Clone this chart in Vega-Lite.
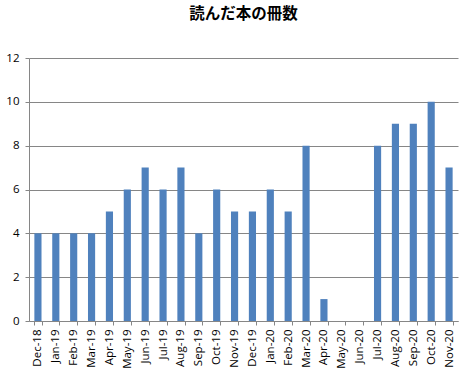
{
  "$schema": "https://vega.github.io/schema/vega-lite/v6.json",
  "width": 429,
  "height": 263,
  "autosize": {"type": "none"},
  "padding": {"left": 29, "top": 58, "right": 7, "bottom": 59},
  "background": "white",
  "title": {"text": "読んだ本の冊数", "font": "Noto Sans CJK JP", "fontSize": 15.5, "fontWeight": "bold", "color": "#000000", "offset": 30, "anchor": "middle"},
  "data": {"values": [
    {"month": "Dec-18", "count": 4},
    {"month": "Jan-19", "count": 4},
    {"month": "Feb-19", "count": 4},
    {"month": "Mar-19", "count": 4},
    {"month": "Apr-19", "count": 5},
    {"month": "May-19", "count": 6},
    {"month": "Jun-19", "count": 7},
    {"month": "Jul-19", "count": 6},
    {"month": "Aug-19", "count": 7},
    {"month": "Sep-19", "count": 4},
    {"month": "Oct-19", "count": 6},
    {"month": "Nov-19", "count": 5},
    {"month": "Dec-19", "count": 5},
    {"month": "Jan-20", "count": 6},
    {"month": "Feb-20", "count": 5},
    {"month": "Mar-20", "count": 8},
    {"month": "Apr-20", "count": 1},
    {"month": "May-20", "count": 0},
    {"month": "Jun-20", "count": 0},
    {"month": "Jul-20", "count": 8},
    {"month": "Aug-20", "count": 9},
    {"month": "Sep-20", "count": 9},
    {"month": "Oct-20", "count": 10},
    {"month": "Nov-20", "count": 7}
  ]},
  "mark": {"type": "bar", "color": "#4F81BD"},
  "encoding": {
    "x": {"field": "month", "type": "nominal", "sort": null,
      "scale": {"paddingInner": 0.6, "paddingOuter": 0.3},
      "axis": {"title": null, "labelAngle": -90, "labelAlign": "right", "labelBaseline": "middle", "labelFont": "Open Sans", "labelFontSize": 11.5, "labelColor": "#000000", "labelPadding": 4, "domainColor": "#868686", "tickColor": "#868686", "tickBand": "extent", "tickSize": 4, "grid": false}},
    "y": {"field": "count", "type": "quantitative",
      "scale": {"domain": [0, 12]},
      "axis": {"title": null, "values": [0, 2, 4, 6, 8, 10, 12], "labelFont": "Open Sans", "labelFontSize": 11.5, "labelColor": "#000000", "labelPadding": 6, "domainColor": "#868686", "tickColor": "#868686", "tickSize": 4, "gridColor": "#868686", "gridWidth": 1}}
  },
  "config": {"view": {"stroke": null}}
}
